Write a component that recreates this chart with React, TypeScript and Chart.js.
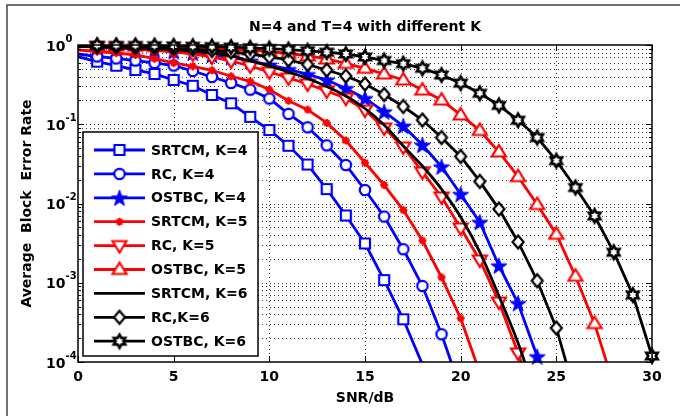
import React, { useEffect, useRef } from 'react';
import { Chart, registerables } from 'chart.js';

Chart.register(...registerables);

// ---------- data ----------
const snr = [0, 1, 2, 3, 4, 5, 6, 7, 8, 9, 10, 11, 12, 13, 14, 15, 16, 17, 18, 19, 20, 21, 22, 23, 24, 25, 26, 27, 28, 29, 30];

const chartTitle = 'N=4 and T=4 with different K';
const xAxisLabel = 'SNR/dB';
const yAxisLabel = 'Average  Block  Error Rate';
const xTickValues = [0, 5, 10, 15, 20, 25, 30];
const yDecadeValues = [1, 0.1, 0.01, 0.001, 0.0001];
const yDecadeExponents = ['0', '-1', '-2', '-3', '-4'];

const seriesNames = [
  'SRTCM, K=4', 'RC, K=4', 'OSTBC, K=4',
  'SRTCM, K=5', 'RC, K=5', 'OSTBC, K=5',
  'SRTCM, K=6', 'RC,K=6', 'OSTBC, K=6',
];

const srtcmK4 = [0.712, 0.616, 0.548, 0.484, 0.431, 0.362, 0.306, 0.234, 0.184, 0.124, 0.0846, 0.0535, 0.031, 0.0152, 0.00706, 0.00313, 0.00108, 0.000346, 0.000093];
const rcK4 = [0.77, 0.716, 0.676, 0.637, 0.593, 0.551, 0.47, 0.395, 0.332, 0.273, 0.211, 0.135, 0.0916, 0.0542, 0.0306, 0.0148, 0.00685, 0.00265, 0.00091, 0.000224, 0.000045];
const ostbcK4 = [0.971, 0.944, 0.917, 0.89, 0.865, 0.828, 0.793, 0.748, 0.696, 0.628, 0.56, 0.491, 0.425, 0.362, 0.283, 0.212, 0.144, 0.095, 0.0547, 0.0291, 0.0131, 0.0058, 0.00164, 0.00055, 0.000117];
const srtcmK5 = [0.865, 0.828, 0.793, 0.748, 0.671, 0.593, 0.538, 0.48, 0.403, 0.348, 0.274, 0.198, 0.153, 0.104, 0.0624, 0.0327, 0.0171, 0.00827, 0.00341, 0.00117, 0.000356, 0.000073];
const rcK5 = [0.971, 0.952, 0.93, 0.903, 0.87, 0.828, 0.77, 0.706, 0.628, 0.543, 0.456, 0.383, 0.322, 0.263, 0.213, 0.151, 0.0897, 0.0516, 0.025, 0.0121, 0.00491, 0.00194, 0.000571, 0.00013, 0.000025];
const ostbcK5 = [0.983, 0.977, 0.971, 0.963, 0.955, 0.944, 0.927, 0.911, 0.89, 0.865, 0.828, 0.781, 0.727, 0.666, 0.587, 0.508, 0.431, 0.362, 0.27, 0.202, 0.131, 0.0834, 0.0447, 0.0218, 0.00971, 0.00409, 0.00121, 0.000305, 0.000051];
const srtcmK6 = [0.957, 0.949, 0.938, 0.922, 0.903, 0.877, 0.84, 0.793, 0.727, 0.628, 0.543, 0.456, 0.378, 0.2995, 0.227, 0.158, 0.0978, 0.0532, 0.0297, 0.0152, 0.00676, 0.00244, 0.000681, 0.000174, 0.000033];
const rcK6 = [0.971, 0.96, 0.949, 0.938, 0.922, 0.903, 0.882, 0.852, 0.816, 0.77, 0.706, 0.647, 0.5675, 0.4836, 0.406, 0.322, 0.237, 0.1675, 0.113, 0.068, 0.0392, 0.019, 0.0085, 0.00327, 0.00106, 0.000269, 0.000038];
const ostbcK6 = [0.994, 0.991, 0.988, 0.986, 0.98, 0.974, 0.966, 0.955, 0.941, 0.922, 0.901, 0.875, 0.845, 0.811, 0.77, 0.706, 0.637, 0.581, 0.508, 0.418, 0.33, 0.246, 0.173, 0.1125, 0.0679, 0.0347, 0.0159, 0.00696, 0.00243, 0.0007, 0.000119];

const seriesValues = [srtcmK4, rcK4, ostbcK4, srtcmK5, rcK5, ostbcK5, srtcmK6, rcK6, ostbcK6];

// ---------- styles ----------
const BLUE = '#0000ff';
const RED = '#ff0000';
const BLACK = '#000000';
const seriesColors = [BLUE, BLUE, BLUE, RED, RED, RED, BLACK, BLACK, BLACK];
const seriesMarkers = ['square', 'circle', 'pentagram', 'asterisk', 'triDown', 'triUp', 'none', 'diamond', 'hexagram'];
const FONT = '"DejaVu Sans", "Liberation Sans", Arial, sans-serif';
const LINE_W = 2.8;

function starPath(ctx: CanvasRenderingContext2D, cx: number, cy: number, n: number, R: number, r: number) {
  ctx.beginPath();
  for (let i = 0; i < 2 * n; i++) {
    const a = -Math.PI / 2 + (i * Math.PI) / n;
    const rad = i % 2 === 0 ? R : r;
    const px = cx + rad * Math.cos(a);
    const py = cy + rad * Math.sin(a);
    if (i === 0) ctx.moveTo(px, py);
    else ctx.lineTo(px, py);
  }
  ctx.closePath();
}

function makeMarker(shape: string, color: string): HTMLCanvasElement | null {
  if (shape === 'none') return null;
  const S = 22;
  const c = document.createElement('canvas');
  c.width = S;
  c.height = S;
  const ctx = c.getContext('2d') as CanvasRenderingContext2D;
  const m = S / 2;
  ctx.lineWidth = 2.2;
  ctx.strokeStyle = color;
  ctx.fillStyle = '#ffffff';
  ctx.lineJoin = 'miter';
  switch (shape) {
    case 'square':
      ctx.beginPath();
      ctx.rect(m - 5, m - 5, 10, 10);
      ctx.fill();
      ctx.stroke();
      break;
    case 'circle':
      ctx.beginPath();
      ctx.arc(m, m, 5.2, 0, Math.PI * 2);
      ctx.fill();
      ctx.stroke();
      break;
    case 'pentagram':
      starPath(ctx, m, m + 0.8, 5, 8.5, 3.4);
      ctx.fillStyle = color;
      ctx.fill();
      ctx.lineWidth = 1;
      ctx.stroke();
      break;
    case 'asterisk':
      ctx.lineWidth = 2;
      ctx.beginPath();
      for (let i = 0; i < 4; i++) {
        const a = (i * Math.PI) / 4;
        ctx.moveTo(m - 4 * Math.cos(a), m - 4 * Math.sin(a));
        ctx.lineTo(m + 4 * Math.cos(a), m + 4 * Math.sin(a));
      }
      ctx.stroke();
      ctx.fillStyle = color;
      ctx.beginPath();
      ctx.arc(m, m, 2.6, 0, Math.PI * 2);
      ctx.fill();
      break;
    case 'triDown':
      ctx.beginPath();
      ctx.moveTo(m - 7, m - 4.5);
      ctx.lineTo(m + 7, m - 4.5);
      ctx.lineTo(m, m + 7);
      ctx.closePath();
      ctx.fill();
      ctx.stroke();
      break;
    case 'triUp':
      ctx.beginPath();
      ctx.moveTo(m - 7, m + 4.5);
      ctx.lineTo(m + 7, m + 4.5);
      ctx.lineTo(m, m - 7);
      ctx.closePath();
      ctx.fill();
      ctx.stroke();
      break;
    case 'diamond':
      ctx.beginPath();
      ctx.moveTo(m, m - 6.5);
      ctx.lineTo(m + 5.5, m);
      ctx.lineTo(m, m + 6.5);
      ctx.lineTo(m - 5.5, m);
      ctx.closePath();
      ctx.fill();
      ctx.stroke();
      break;
    case 'hexagram':
      starPath(ctx, m, m, 6, 6.6, 3.8);
      ctx.fill();
      ctx.lineWidth = 2.6;
      ctx.stroke();
      break;
  }
  return c;
}

const frameStyle = {
  box: { left: 83, top: 132, right: 258, bottom: 356 },
  firstRow: 150,
  rowStep: 23.9,
  lineX0: 94,
  lineX1: 145,
  textX: 151,
};

export default function App() {
  const canvasRef = useRef<HTMLCanvasElement | null>(null);

  useEffect(() => {
    const canvas = canvasRef.current;
    if (!canvas) return;

    const markers = seriesMarkers.map((s, i) => makeMarker(s, seriesColors[i]));

    const datasets: any[] = [];
    seriesValues.forEach((vals, i) => {
      const pts = vals.map((v, k) => ({ x: snr[k], y: v }));
      datasets.push({
        label: seriesNames[i],
        data: pts,
        borderColor: seriesColors[i],
        backgroundColor: seriesColors[i],
        borderWidth: LINE_W,
        pointRadius: 0,
        fill: false,
        tension: 0,
        cubicInterpolationMode: seriesMarkers[i] === 'none' ? 'monotone' : 'default',
        clip: 0,
        order: 100 - 2 * i,
      });
      if (markers[i]) {
        datasets.push({
          label: seriesNames[i] + ' markers',
          data: pts,
          showLine: false,
          pointStyle: markers[i],
          pointRadius: (ctx: any) => {
            const r = ctx.raw;
            if (!r || r.x === 0 || r.y < 1e-4) return 0;
            return 5;
          },
          clip: false,
          order: 99 - 2 * i,
        });
      }
    });

    const decorPlugin = {
      id: 'decor',
      beforeDatasetsDraw(chart: any) {
        const { ctx, chartArea: a, scales } = chart;
        const xs = scales.x;
        const ys = scales.y;
        ctx.save();
        ctx.lineWidth = 1;
        ctx.strokeStyle = 'rgba(0,0,0,0.8)';
        ctx.setLineDash([1, 3]);
        for (let e = -4; e <= 0; e++) {
          for (let k = 1; k <= 9; k++) {
            const v = k * Math.pow(10, e);
            if (v > 1.0001) break;
            const y = Math.round(ys.getPixelForValue(v)) + 0.5;
            if (y <= a.top + 1 || y >= a.bottom - 1) continue;
            ctx.beginPath();
            ctx.moveTo(a.left, y);
            ctx.lineTo(a.right, y);
            ctx.stroke();
          }
        }
        xTickValues.forEach((t) => {
          if (t === 0 || t === 30) return;
          const x = Math.round(xs.getPixelForValue(t)) + 0.5;
          ctx.beginPath();
          ctx.moveTo(x, a.top);
          ctx.lineTo(x, a.bottom);
          ctx.stroke();
        });
        ctx.restore();
      },
      afterDatasetsDraw(chart: any) {
        const { ctx, chartArea: a, scales } = chart;
        const xs = scales.x;
        const ys = scales.y;
        ctx.save();
        ctx.setLineDash([]);
        ctx.strokeStyle = '#000';
        ctx.lineWidth = 1.5;
        ctx.strokeRect(a.left, a.top, a.right - a.left, a.bottom - a.top);
        ctx.lineWidth = 1;
        xTickValues.forEach((t) => {
          const x = Math.round(xs.getPixelForValue(t)) + 0.5;
          ctx.beginPath();
          ctx.moveTo(x, a.bottom);
          ctx.lineTo(x, a.bottom - 6);
          ctx.moveTo(x, a.top);
          ctx.lineTo(x, a.top + 6);
          ctx.stroke();
        });
        for (let e = -4; e <= 0; e++) {
          for (let k = 1; k <= 9; k++) {
            const v = k * Math.pow(10, e);
            if (v > 1.0001) break;
            const y = Math.round(ys.getPixelForValue(v)) + 0.5;
            const len = k === 1 ? 6 : 3;
            ctx.beginPath();
            ctx.moveTo(a.left, y);
            ctx.lineTo(a.left + len, y);
            ctx.moveTo(a.right, y);
            ctx.lineTo(a.right - len, y);
            ctx.stroke();
          }
        }
        ctx.fillStyle = '#000';
        ctx.font = `bold 14px ${FONT}`;
        ctx.textAlign = 'center';
        ctx.textBaseline = 'middle';
        xTickValues.forEach((t) => {
          ctx.fillText(String(t), xs.getPixelForValue(t), a.bottom + 15);
        });
        yDecadeValues.forEach((v, i) => {
          const y = ys.getPixelForValue(v);
          ctx.textAlign = 'left';
          ctx.font = `bold 14px ${FONT}`;
          ctx.fillText('10', 46, y + 2);
          const w = ctx.measureText('10').width;
          ctx.font = `bold 10px ${FONT}`;
          ctx.fillText(yDecadeExponents[i], 46 + w, y - 6);
        });
        ctx.font = `bold 14px ${FONT}`;
        ctx.textAlign = 'center';
        ctx.fillText(chartTitle, (a.left + a.right) / 2, 27);
        ctx.fillText(xAxisLabel, (a.left + a.right) / 2, 398);
        ctx.save();
        ctx.translate(27, (a.top + a.bottom) / 2);
        ctx.rotate(-Math.PI / 2);
        ctx.fillText(yAxisLabel, 0, 0);
        ctx.restore();

        const b = frameStyle.box;
        ctx.fillStyle = '#fff';
        ctx.fillRect(b.left, b.top, b.right - b.left, b.bottom - b.top);
        ctx.strokeStyle = '#000';
        ctx.lineWidth = 1.5;
        ctx.strokeRect(b.left, b.top, b.right - b.left, b.bottom - b.top);
        seriesNames.forEach((name, i) => {
          const y = frameStyle.firstRow + i * frameStyle.rowStep;
          ctx.strokeStyle = seriesColors[i];
          ctx.lineWidth = LINE_W;
          ctx.beginPath();
          ctx.moveTo(frameStyle.lineX0, y);
          ctx.lineTo(frameStyle.lineX1, y);
          ctx.stroke();
          const mk = markers[i];
          if (mk) {
            const cx = (frameStyle.lineX0 + frameStyle.lineX1) / 2;
            ctx.drawImage(mk, cx - mk.width / 2, y - mk.height / 2);
          }
          ctx.fillStyle = '#000';
          ctx.font = `bold 14px ${FONT}`;
          ctx.textAlign = 'left';
          ctx.textBaseline = 'middle';
          ctx.fillText(name, frameStyle.textX, y + 1);
        });

        ctx.strokeStyle = '#444';
        ctx.lineWidth = 1.5;
        ctx.beginPath();
        ctx.moveTo(7, 420);
        ctx.lineTo(7, 5);
        ctx.lineTo(690, 5);
        ctx.stroke();
        ctx.restore();
      },
    };

    const chart = new Chart(canvas, {
      type: 'line',
      data: { datasets },
      options: {
        animation: false,
        responsive: false,
        maintainAspectRatio: false,
        events: [],
        layout: { padding: { left: 78, right: 28, top: 45, bottom: 54 } },
        plugins: {
          legend: { display: false },
          title: { display: false },
          tooltip: { enabled: false },
        },
        scales: {
          x: {
            type: 'linear',
            min: 0,
            max: 30,
            grid: { display: false },
            ticks: { display: false },
            border: { display: false },
            afterFit: (s: any) => { s.height = 0; },
          },
          y: {
            type: 'logarithmic',
            min: 1e-4,
            max: 1,
            grid: { display: false },
            ticks: { display: false },
            border: { display: false },
            afterFit: (s: any) => { s.width = 0; },
          },
        },
      } as any,
      plugins: [decorPlugin],
    });

    return () => {
      chart.destroy();
    };
  }, []);

  return (
    <div style={{ position: 'fixed', left: 0, top: 0, width: 680, height: 416, background: '#fff' }}>
      <canvas ref={canvasRef} width={680} height={416} style={{ display: 'block', width: 680, height: 416 }} />
    </div>
  );
}
